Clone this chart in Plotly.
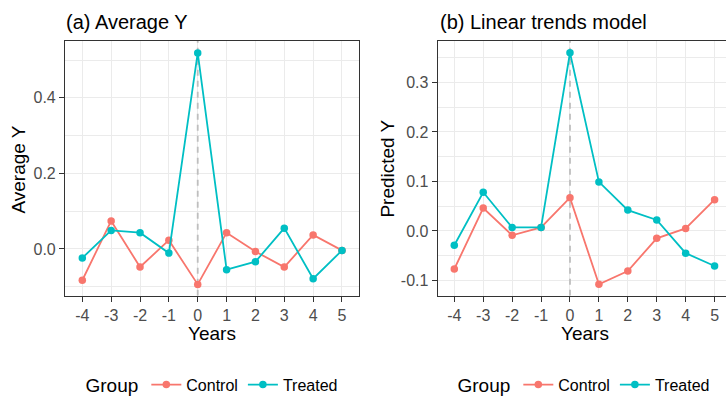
import plotly.graph_objects as go

years = [-4, -3, -2, -1, 0, 1, 2, 3, 4, 5]
year_labels = ["-4", "-3", "-2", "-1", "0", "1", "2", "3", "4", "5"]

avg_control = [-0.083, 0.074, -0.048, 0.023, -0.094, 0.043, -0.007, -0.048, 0.037, -0.004]
avg_treated = [-0.024, 0.049, 0.043, -0.011, 0.519, -0.055, -0.034, 0.055, -0.079, -0.004]

pred_control = [-0.077, 0.046, -0.009, 0.007, 0.067, -0.108, -0.081, -0.015, 0.005, 0.063]
pred_treated = [-0.029, 0.078, 0.007, 0.007, 0.360, 0.099, 0.042, 0.022, -0.045, -0.071]

a_yticks = [0.0, 0.2, 0.4]
a_yticklabels = ["0.0", "0.2", "0.4"]
a_yminor = [-0.1, 0.1, 0.3, 0.5]
b_yticks = [-0.1, 0.0, 0.1, 0.2, 0.3]
b_yticklabels = ["-0.1", "0.0", "0.1", "0.2", "0.3"]
b_yminor = [-0.05, 0.05, 0.15, 0.25, 0.35]

treatment_year = 0

groups = ["Control", "Treated"]
colors = {"Control": "#F8766D", "Treated": "#00BFC4"}

W, H = 726, 403
FONT = "Liberation Sans, Arial, sans-serif"

def px_x(p):
    return p / W

def px_y(p):
    return (H - p) / H

a_yrange = [-0.124, 0.551]
b_yrange = [-0.131, 0.384]

fig = go.Figure()

panels = [
    ("x", "y", "legend", {"Control": avg_control, "Treated": avg_treated}),
    ("x2", "y2", "legend2", {"Control": pred_control, "Treated": pred_treated}),
]
for xa, ya, leg, data in panels:
    for g in groups:
        fig.add_trace(go.Scatter(
            x=years, y=data[g], mode="lines+markers", name=g,
            xaxis=xa, yaxis=ya, legend=leg,
            line=dict(color=colors[g], width=1.8),
            marker=dict(color=colors[g], size=7.5),
        ))

for xa, ya, yr in [("x", "y", a_yrange), ("x2", "y2", b_yrange)]:
    fig.add_shape(type="line", xref=xa, yref=ya,
                  x0=treatment_year, x1=treatment_year, y0=yr[0], y1=yr[1],
                  layer="between",
                  line=dict(color="#BEBEBE", width=1.8, dash="6px,5px"))

ytop, ybot = 41.7, 301.7
ydom = [px_y(ybot), px_y(ytop)]
axis_common = dict(
    showline=True, linecolor="#333333", linewidth=1.1,
    ticks="outside", ticklen=5, tickcolor="#333333", tickwidth=1.1,
    tickfont=dict(family=FONT, size=16, color="#4D4D4D"),
    showgrid=True, gridcolor="#EBEBEB", gridwidth=1.1,
    zeroline=False,
)

fig.update_layout(
    width=W, height=H,
    margin=dict(l=0, r=0, t=0, b=0),
    paper_bgcolor="white", plot_bgcolor="white",
    font=dict(family=FONT, color="black"),
    xaxis=dict(domain=[px_x(65), px_x(359.3)], range=[-4.6, 5.6], anchor="y",
               tickmode="array", tickvals=years, ticktext=year_labels,
               mirror=True, **axis_common),
    yaxis=dict(domain=ydom, range=a_yrange, anchor="x",
               tickmode="array", tickvals=a_yticks, ticktext=a_yticklabels,
               mirror=True,
               minor=dict(tickmode="array", tickvals=a_yminor, showgrid=True,
                          gridcolor="#EBEBEB", gridwidth=0.6, ticks=""),
               **axis_common),
    xaxis2=dict(domain=[px_x(437.7), 1.0], range=[-4.574, 5.395], anchor="y2",
                tickmode="array", tickvals=years, ticktext=year_labels,
                mirror=True, **axis_common),
    yaxis2=dict(domain=ydom, range=b_yrange, anchor="x2",
                tickmode="array", tickvals=b_yticks, ticktext=b_yticklabels,
                mirror=False,
                minor=dict(tickmode="array", tickvals=b_yminor, showgrid=True,
                           gridcolor="#EBEBEB", gridwidth=0.6, ticks=""),
                **axis_common),
    legend=dict(orientation="h", x=px_x(213), xanchor="center",
                y=px_y(393), yanchor="middle",
                title=dict(text="Group", side="left", font=dict(size=19, family=FONT)),
                font=dict(size=16, family=FONT), bgcolor="rgba(0,0,0,0)"),
    legend2=dict(orientation="h", x=px_x(585), xanchor="center",
                 y=px_y(393), yanchor="middle",
                 title=dict(text="Group", side="left", font=dict(size=19, family=FONT)),
                 font=dict(size=16, family=FONT), bgcolor="rgba(0,0,0,0)"),
    showlegend=True,
)

annotations = [
    dict(text="(a) Average Y", x=px_x(64.3), y=px_y(22), xanchor="left", yanchor="middle",
         font=dict(size=20, family=FONT, color="black")),
    dict(text="(b) Linear trends model", x=px_x(438), y=px_y(22), xanchor="left", yanchor="middle",
         font=dict(size=20, family=FONT, color="black")),
    dict(text="Years", x=px_x(212), y=px_y(340), xanchor="center", yanchor="middle",
         font=dict(size=19, family=FONT, color="black")),
    dict(text="Years", x=px_x(585), y=px_y(340), xanchor="center", yanchor="middle",
         font=dict(size=19, family=FONT, color="black")),
    dict(text="Average Y", x=px_x(19), y=px_y(173), xanchor="center", yanchor="middle",
         textangle=-90, font=dict(size=19, family=FONT, color="black")),
    dict(text="Predicted Y", x=px_x(388), y=px_y(172), xanchor="center", yanchor="middle",
         textangle=-90, font=dict(size=19, family=FONT, color="black")),
]
for a in annotations:
    fig.add_annotation(xref="paper", yref="paper", showarrow=False, **a)

fig.write_html(
    "out.html",
    config={"displayModeBar": False},
    post_script="document.body.style.margin='0';document.body.style.overflow='hidden';",
)
